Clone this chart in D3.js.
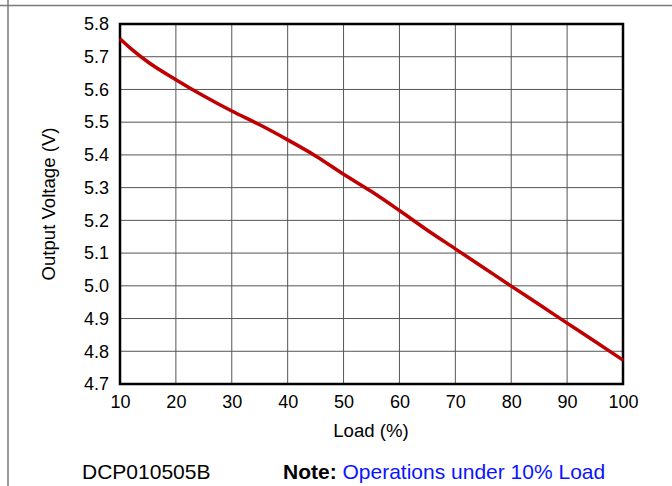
<!DOCTYPE html>
<html>
<head>
<meta charset="utf-8">
<script src="https://cdn.jsdelivr.net/npm/d3@7"></script>
<style>
  html, body { margin: 0; padding: 0; background: #fff; }
  svg { display: block; }
  text { font-family: "Liberation Sans", Arial, sans-serif; }
</style>
</head>
<body>
<svg id="chart" width="672" height="486"></svg>
<script>
const loadPct = [10, 12, 15, 20, 25, 30, 35, 40, 45, 50, 55, 60, 65, 70, 75, 80, 85, 90, 95, 100];
const outputV = [5.755, 5.724, 5.684, 5.630, 5.580, 5.534, 5.492, 5.446, 5.397, 5.341, 5.288, 5.230, 5.170, 5.113, 5.056, 4.999, 4.943, 4.886, 4.830, 4.773];
const xTicks = [10, 20, 30, 40, 50, 60, 70, 80, 90, 100];
const yTicks = [4.7, 4.8, 4.9, 5.0, 5.1, 5.2, 5.3, 5.4, 5.5, 5.6, 5.7, 5.8];

const svg = d3.select("#chart");
const m = { left: 120, right: 623, top: 24, bottom: 384 };

const x = d3.scaleLinear().domain([10, 100]).range([m.left, m.right]);
const y = d3.scaleLinear().domain([4.7, 5.8]).range([m.bottom, m.top]);

// outer frame lines
svg.append("line").attr("x1", 0).attr("x2", 672).attr("y1", 5.5).attr("y2", 5.5)
  .attr("stroke", "#7a7a7a").attr("stroke-width", 1.5);
svg.append("line").attr("x1", 8).attr("x2", 8).attr("y1", 0).attr("y2", 486)
  .attr("stroke", "#7a7a7a").attr("stroke-width", 1.5);

// grid
const grid = svg.append("g");
grid.selectAll("line.v").data(xTicks).join("line")
  .attr("x1", d => x(d)).attr("x2", d => x(d))
  .attr("y1", m.top).attr("y2", m.bottom)
  .attr("stroke", "#555").attr("stroke-width", 1);
grid.selectAll("line.h").data(yTicks).join("line")
  .attr("x1", m.left).attr("x2", m.right)
  .attr("y1", d => y(d)).attr("y2", d => y(d))
  .attr("stroke", "#555").attr("stroke-width", 1);

// axes labels via d3 axes
const xAxis = d3.axisBottom(x).tickValues(xTicks).tickSize(0).tickPadding(11).tickFormat(d3.format("d"));
const yAxis = d3.axisLeft(y).tickValues(yTicks).tickSize(0).tickPadding(11).tickFormat(d3.format(".1f"));
const gx = svg.append("g").attr("transform", `translate(0,${m.bottom})`).call(xAxis);
const gy = svg.append("g").attr("transform", `translate(${m.left},0)`).call(yAxis);
[gx, gy].forEach(g => {
  g.attr("font-size", null).attr("font-family", null);
  g.select(".domain").remove();
  g.selectAll("text").attr("font-size", 18).attr("fill", "#000")
    .attr("font-family", "'Liberation Sans', Arial, sans-serif");
});

// plot border
svg.append("rect").attr("x", m.left).attr("y", m.top)
  .attr("width", m.right - m.left).attr("height", m.bottom - m.top)
  .attr("fill", "none").attr("stroke", "#000").attr("stroke-width", 2.5);

// curve
const line = d3.line().x((d, i) => x(loadPct[i])).y(d => y(d)).curve(d3.curveMonotoneX);
svg.append("path").datum(outputV).attr("d", line)
  .attr("fill", "none").attr("stroke", "#c00000").attr("stroke-width", 3.5)
  .attr("stroke-linejoin", "round");

// axis titles
svg.append("text").attr("x", 371).attr("y", 437).attr("text-anchor", "middle")
  .attr("font-size", 18.6).text("Load (%)");
svg.append("text").attr("transform", `translate(55,${(m.top + m.bottom) / 2}) rotate(-90)`)
  .attr("text-anchor", "middle").attr("font-size", 18.6).text("Output Voltage (V)");

// footer
svg.append("text").attr("x", 82).attr("y", 479).attr("font-size", 21).text("DCP010505B");
const note = svg.append("text").attr("x", 283).attr("y", 479).attr("font-size", 21);
note.append("tspan").attr("font-weight", "bold").text("Note: ");
note.append("tspan").attr("fill", "#0a14ff").text("Operations under 10% Load");
</script>
</body>
</html>
